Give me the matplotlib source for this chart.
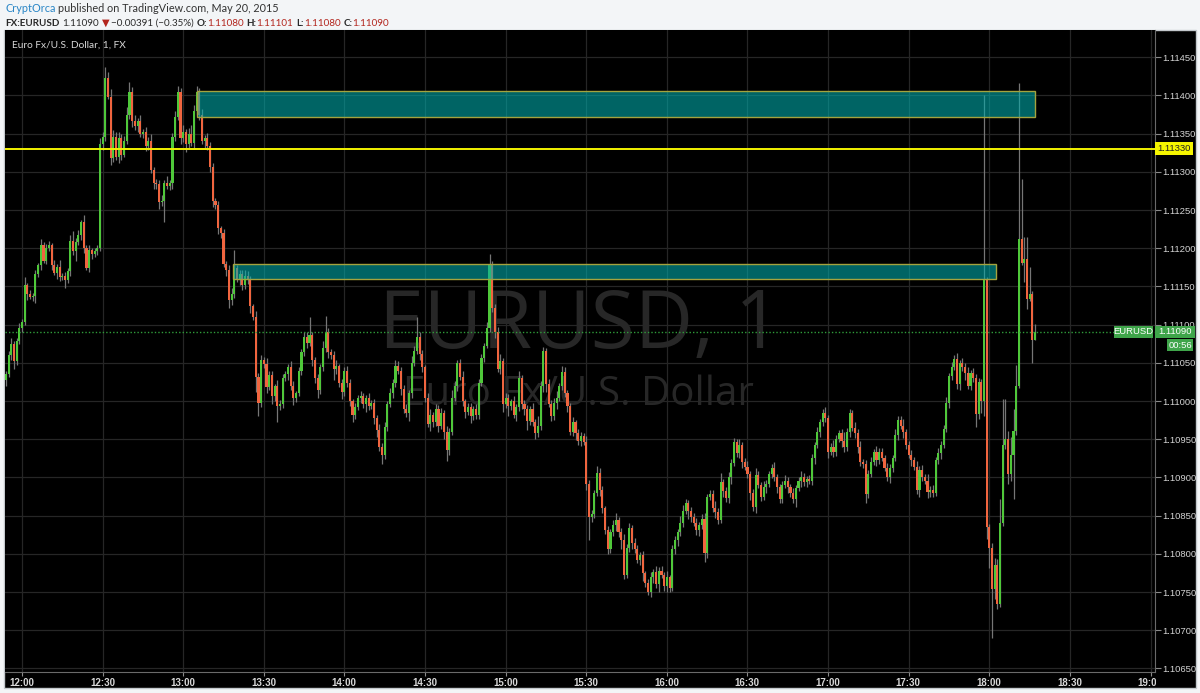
import matplotlib
matplotlib.use("Agg")
import matplotlib.pyplot as plt
from matplotlib.patches import Rectangle
from matplotlib.transforms import Bbox, TransformedBbox
import numpy as np

W, H = 1200, 693

# EURUSD 1-minute candles from 11:54 to 18:17 (May 20, 2015)
# prices are in 1e-5 above 1.10000, open of each bar = previous close
first_minute = -6          # minutes after 12:00
first_open = 1028
closes = [
    1036, 1060, 1075, 1052, 1078, 1096, 1104, 1152, 1140, 1136, 1138, 1166, 1178, 1204, 1184, 1200,
    1204, 1178, 1168, 1176, 1162, 1164, 1158, 1170, 1210, 1196, 1208, 1218, 1234, 1200, 1174, 1198,
    1192, 1196, 1200, 1336, 1346, 1423, 1398, 1318, 1346, 1320, 1344, 1322, 1340, 1375, 1405, 1366,
    1360, 1366, 1350, 1352, 1334, 1340, 1302, 1286, 1284, 1260, 1262, 1286, 1282, 1285, 1345, 1372,
    1405, 1344, 1352, 1336, 1350, 1338, 1380, 1404, 1374, 1340, 1344, 1334, 1306, 1262, 1256, 1226,
    1220, 1180, 1172, 1132, 1140, 1174, 1160, 1166, 1152, 1164, 1160, 1124, 1110, 1032, 998, 1054,
    1048, 1018, 1034, 1006, 1020, 994, 996, 1030, 1036, 1044, 1020, 1004, 1010, 1040, 1064, 1084,
    1076, 1086, 1054, 1030, 1014, 1044, 1070, 1090, 1064, 1060, 1042, 1046, 1024, 1012, 1040, 1024,
    1000, 982, 992, 1004, 1006, 996, 1004, 994, 998, 978, 962, 940, 930, 966, 996, 1010,
    1024, 1046, 1040, 1016, 990, 984, 1010, 1050, 1066, 1084, 1062, 1044, 1004, 970, 982, 972,
    990, 968, 984, 960, 936, 960, 1004, 1020, 1050, 1032, 1000, 986, 992, 980, 990, 982,
    1024, 1056, 1072, 1096, 1178, 1122, 1090, 1042, 1052, 996, 1004, 994, 1000, 982, 992, 1030,
    996, 990, 974, 990, 972, 958, 968, 1020, 1066, 1022, 996, 980, 998, 1004, 1020, 1038,
    1010, 994, 960, 972, 958, 948, 954, 946, 892, 848, 852, 880, 906, 884, 860, 831,
    806, 828, 838, 844, 828, 818, 772, 808, 834, 814, 806, 792, 798, 775, 762, 750,
    770, 776, 760, 778, 772, 758, 770, 755, 806, 818, 829, 841, 856, 867, 856, 848,
    840, 831, 838, 846, 801, 875, 878, 860, 855, 845, 894, 882, 873, 900, 919, 946,
    932, 942, 920, 914, 905, 880, 861, 903, 890, 875, 888, 892, 905, 912, 900, 888,
    872, 890, 896, 888, 880, 872, 886, 896, 900, 894, 898, 895, 925, 942, 959, 972,
    984, 978, 934, 940, 933, 950, 958, 948, 940, 960, 984, 965, 958, 940, 920, 917,
    879, 905, 920, 933, 923, 933, 926, 912, 901, 912, 925, 955, 975, 968, 960, 943,
    930, 923, 914, 884, 910, 900, 896, 881, 884, 880, 923, 932, 943, 963, 997, 1033,
    1045, 1055, 1022, 1050, 1045, 1037, 1020, 1037, 1030, 983, 1025, 1000, 1158, 835, 808, 754,
    785, 734, 840, 943, 951, 904, 930, 961, 1020, 1212, 1181, 1186, 1134, 1140, 1080, 1090,
]
upper_wicks = [
    4, 6, 8, 3, 5, 6, 4, 10, 3, 5, 4, 6, 3, 8, 4, 6,
    5, 3, 7, 4, 9, 3, 5, 4, 8, 12, 5, 6, 3, 10, 4, 6,
    3, 5, 4, 8, 6, 14, 8, 10, 9, 6, 8, 5, 7, 10, 13, 6,
    8, 5, 9, 4, 7, 6, 10, 4, 5, 6, 8, 4, 9, 5, 6, 8,
    7, 5, 9, 4, 7, 12, 8, 8, 6, 8, 4, 7, 5, 6, 4, 6,
    3, 5, 4, 6, 8, 24, 4, 6, 5, 7, 6, 4, 3, 8, 5, 6,
    4, 8, 5, 6, 3, 7, 5, 6, 4, 5, 8, 6, 3, 5, 4, 7,
    6, 24, 5, 4, 6, 4, 8, 22, 5, 4, 6, 8, 3, 5, 4, 6,
    5, 3, 6, 4, 7, 5, 4, 6, 3, 5, 4, 8, 5, 6, 4, 7,
    5, 8, 6, 4, 5, 6, 5, 9, 6, 26, 6, 5, 3, 7, 8, 4,
    6, 5, 7, 4, 8, 5, 10, 6, 4, 5, 7, 3, 6, 5, 4, 6,
    5, 6, 4, 8, 14, 6, 5, 7, 9, 4, 6, 5, 3, 6, 4, 9,
    4, 6, 5, 3, 8, 4, 12, 6, 5, 4, 7, 5, 6, 9, 4, 8,
    6, 5, 4, 7, 3, 6, 5, 4, 8, 5, 6, 4, 9, 7, 5, 3,
    6, 5, 7, 9, 4, 6, 8, 5, 6, 4, 7, 5, 4, 6, 3, 5,
    6, 4, 8, 5, 6, 4, 7, 3, 5, 6, 4, 9, 8, 5, 4, 6,
    5, 7, 4, 6, 8, 4, 5, 6, 9, 5, 12, 4, 6, 7, 5, 6,
    5, 8, 4, 6, 7, 4, 5, 10, 6, 4, 7, 5, 4, 6, 8, 5,
    4, 6, 7, 5, 3, 6, 4, 5, 8, 6, 4, 5, 6, 4, 7, 5,
    6, 8, 4, 5, 9, 6, 4, 5, 12, 5, 6, 4, 7, 5, 8, 4,
    6, 5, 7, 4, 8, 5, 6, 4, 7, 5, 4, 9, 6, 5, 8, 4,
    5, 6, 4, 7, 5, 6, 4, 8, 5, 6, 4, 7, 5, 6, 8, 4,
    6, 5, 8, 4, 6, 5, 7, 4, 6, 5, 5, 4, 242, 5, 4, 6,
    10, 8, 32, 60, 52, 10, 23, 29, 27, 204, 79, 29, 29, 35, 4, 11,
]
lower_wicks = [
    8, 4, 6, 10, 5, 3, 6, 4, 8, 3, 5, 9, 4, 6, 3, 5,
    4, 6, 3, 8, 5, 4, 10, 3, 6, 5, 12, 4, 7, 6, 3, 5,
    6, 3, 5, 4, 8, 6, 3, 9, 5, 4, 8, 6, 3, 4, 6, 7,
    5, 8, 4, 6, 7, 5, 4, 9, 6, 8, 5, 27, 4, 6, 8, 5,
    4, 8, 5, 10, 6, 4, 8, 5, 6, 4, 9, 5, 6, 8, 4, 7,
    6, 5, 8, 10, 6, 5, 4, 8, 6, 5, 7, 9, 4, 20, 18, 6,
    5, 8, 4, 10, 6, 22, 6, 5, 4, 8, 6, 9, 5, 4, 6, 5,
    6, 4, 8, 6, 10, 5, 4, 6, 8, 5, 14, 6, 5, 9, 6, 5,
    6, 9, 5, 4, 7, 5, 10, 6, 4, 8, 9, 5, 12, 6, 5, 4,
    6, 5, 4, 8, 6, 5, 10, 6, 4, 5, 8, 6, 5, 4, 9, 6,
    5, 8, 4, 10, 14, 6, 5, 4, 7, 5, 6, 8, 4, 9, 5, 6,
    6, 4, 5, 3, 6, 5, 8, 4, 6, 10, 5, 14, 6, 4, 8, 5,
    6, 8, 12, 5, 4, 7, 5, 6, 8, 10, 4, 6, 5, 8, 4, 6,
    5, 8, 4, 6, 9, 5, 7, 4, 8, 30, 6, 5, 4, 8, 6, 5,
    6, 5, 4, 8, 6, 12, 5, 4, 6, 8, 5, 4, 6, 10, 5, 4,
    6, 8, 5, 10, 4, 6, 8, 5, 4, 6, 8, 5, 6, 4, 10, 6,
    4, 6, 8, 5, 11, 6, 4, 5, 8, 6, 4, 8, 5, 6, 9, 4,
    5, 6, 8, 4, 6, 10, 5, 8, 4, 6, 5, 8, 4, 6, 5, 8,
    6, 5, 4, 8, 5, 6, 10, 4, 8, 5, 6, 4, 5, 8, 4, 6,
    5, 6, 8, 4, 6, 5, 4, 8, 6, 5, 7, 4, 6, 8, 5, 4,
    12, 6, 5, 4, 8, 6, 5, 4, 6, 8, 5, 4, 6, 5, 8, 6,
    5, 8, 4, 6, 10, 5, 4, 8, 6, 5, 4, 6, 8, 5, 4, 6,
    5, 4, 6, 8, 5, 10, 4, 6, 5, 17, 6, 15, 20, 15, 27, 64,
    13, 6, 4, 4, 6, 13, 8, 58, 5, 3, 3, 25, 14, 3, 30, 0,
]

price_labels = ["1.10650", "1.10700", "1.10750", "1.10800", "1.10850", "1.10900",
                "1.10950", "1.11000", "1.11050", "1.11100", "1.11150", "1.11200",
                "1.11250", "1.11300", "1.11350", "1.11400", "1.11450"]
time_labels = ["12:00", "12:30", "13:00", "13:30", "14:00", "14:30", "15:00", "15:30",
               "16:00", "16:30", "17:00", "17:30", "18:00", "18:30", "19:00"]
time_minutes = [0, 30, 60, 90, 120, 150, 180, 210, 240, 270, 300, 330, 360, 390, 420]

# supply zones drawn on the chart (minutes after 12:00, price)
zone_start = [65, 78.5]
zone_end = [377, 362.5]
zone_low = [1.11372, 1.11160]
zone_high = [1.11406, 1.11179]
level = 1.11330
last_price = 1.11090

GREEN = "#4fc83a"
RED = "#f0653f"
HFONT = ["Lato", "DejaVu Sans"]

t = first_minute + np.arange(len(closes))
c = 1.1 + np.array(closes) / 1e5
o = 1.1 + np.array([first_open] + closes[:-1]) / 1e5
hi = np.maximum(o, c) + np.array(upper_wicks) / 1e5
lo = np.minimum(o, c) - np.array(lower_wicks) / 1e5


def fx(px):
    return px / W


def fy(py):
    return 1 - py / H


fig = plt.figure(figsize=(W / 100, H / 100), dpi=100, facecolor="#f3f5f7")
renderer = fig.canvas.get_renderer()
fig.add_artist(Rectangle((fx(4), fy(688)), fx(1192), 658 / H, transform=fig.transFigure,
                         facecolor="black", edgecolor="#c3c8cc", lw=1, zorder=-10))

ax = fig.add_axes([fx(5), fy(672), fx(1150), 642 / H])
ax.set_facecolor("black")
ax.set_xlim(-6.33, 421.66)
ax.set_ylim(1.106454, 1.114857)

# grid
ax.set_axisbelow(True)
ax.set_yticks([float(s) for s in price_labels])
ax.set_yticklabels(price_labels, family="Liberation Sans")
ax.set_xticks(time_minutes)
ax.set_xticklabels([])
ax.grid(True, color="#262626", lw=0.9)
ax.yaxis.tick_right()
ax.tick_params(axis="y", length=4, color="#8a8a8a", labelcolor="#d4d4d4", labelsize=6.8, pad=1.5)
ax.tick_params(axis="x", length=3, color="#8a8a8a")
for s in ["left", "top"]:
    ax.spines[s].set_visible(False)
for s in ["bottom", "right"]:
    ax.spines[s].set_color("#6a6a6a")

# watermark
ax.text(fx(580), fy(327), "EURUSD, 1", transform=fig.transFigure, ha="center", va="center",
        fontsize=58, color="#272727", family="Open Sans", zorder=1)
ax.text(fx(578), fy(395), "Euro Fx/U.S. Dollar", transform=fig.transFigure, ha="center",
        va="center", fontsize=29, color="#272727", family="Open Sans", zorder=1)

# candles
colors = np.where(c >= o, GREEN, RED)
ax.vlines(t, lo, hi, color="#767676", lw=0.9, zorder=2)
body = np.maximum(np.abs(c - o), 0.000012)
ax.bar(t, body, bottom=np.minimum(o, c), width=0.78, color=colors, lw=0, zorder=3)

# zones
for s, e, zl, zh in zip(zone_start, zone_end, zone_low, zone_high):
    ax.add_patch(Rectangle((s, zl), e - s, zh - zl, facecolor=(0.0, 0.68, 0.68, 0.58),
                           edgecolor="#a4a33e", lw=1, zorder=4))

ax.axhline(level, color="#f2f200", lw=1.4, zorder=5)
ax.axhline(last_price, color="#2f9c3a", lw=1, ls=(0, (1, 1.5)), zorder=5)

# time labels (last one cut by the price scale)
clip = TransformedBbox(Bbox([[0, 0], [fx(1156), 1]]), fig.transFigure)
for m, lab in zip(time_minutes, time_labels):
    px = 22 + m * (1128 / 420)
    tx = fig.text(fx(px), fy(683), lab, ha="center", va="center", fontsize=7,
                  color="#d8d8d8", fontweight="bold", family="Liberation Sans")
    tx.set_clip_box(clip)
    tx.set_clip_on(True)

# price scale tags
tag = dict(ha="center", va="center", fontsize=6.8, family="Liberation Sans")
fig.add_artist(Rectangle((fx(1155), fy(155)), fx(38), 13 / H, transform=fig.transFigure,
                         facecolor="#f5f500", lw=0))
fig.text(fx(1174), fy(148.5), "1.11330", color="#222222", **tag)
fig.add_artist(Rectangle((fx(1114), fy(338)), fx(39), 12 / H, transform=fig.transFigure,
                         facecolor="#3fa54a", lw=0))
fig.text(fx(1133.5), fy(332), "EURUSD", color="white", **tag)
fig.add_artist(Rectangle((fx(1155), fy(338)), fx(40), 12 / H, transform=fig.transFigure,
                         facecolor="#3fa54a", lw=0))
fig.text(fx(1175), fy(332), "1.11090", color="white", **tag)
fig.add_artist(Rectangle((fx(1167), fy(351)), fx(26), 12 / H, transform=fig.transFigure,
                         facecolor="#3fa54a", lw=0))
fig.text(fx(1180), fy(345), "00:56", color="white", **tag)

# chart title
fig.text(fx(12), fy(45), "Euro Fx/U.S. Dollar, 1, FX", ha="left", va="center",
         fontsize=7.3, color="#d8d8d8", family=HFONT)

# header, pieces laid out one after another
dark, red, blue = "#2a2a2a", "#b3261e", "#2a86c6"
lines = [
    (8, 7.8, [("CryptOrca", blue, "normal", 3),
              ("published on TradingView.com, May 20, 2015", "#333333", "normal", 0)]),
    (23, 7.1, [("FX:EURUSD", dark, "bold", 3), ("1.11090", dark, "normal", 3),
               ("\u25BC", red, "normal", 1), ("\u22120.00391 (\u22120.35%)", dark, "normal", 3),
               ("O:", dark, "bold", 0), ("1.11080", red, "normal", 3),
               ("H:", dark, "bold", 0), ("1.11101", red, "normal", 3),
               ("L:", dark, "bold", 0), ("1.11080", red, "normal", 3),
               ("C:", dark, "bold", 0), ("1.11090", red, "normal", 0)]),
]
for py, size, pieces in lines:
    x = 5
    for s, col, wt, gap in pieces:
        txt = fig.text(fx(x), fy(py), s, color=col, fontweight=wt, va="center",
                       fontsize=size, family=HFONT)
        x = txt.get_window_extent(renderer).x1 + gap

plt.savefig("out.png", dpi=100, facecolor=fig.get_facecolor())
